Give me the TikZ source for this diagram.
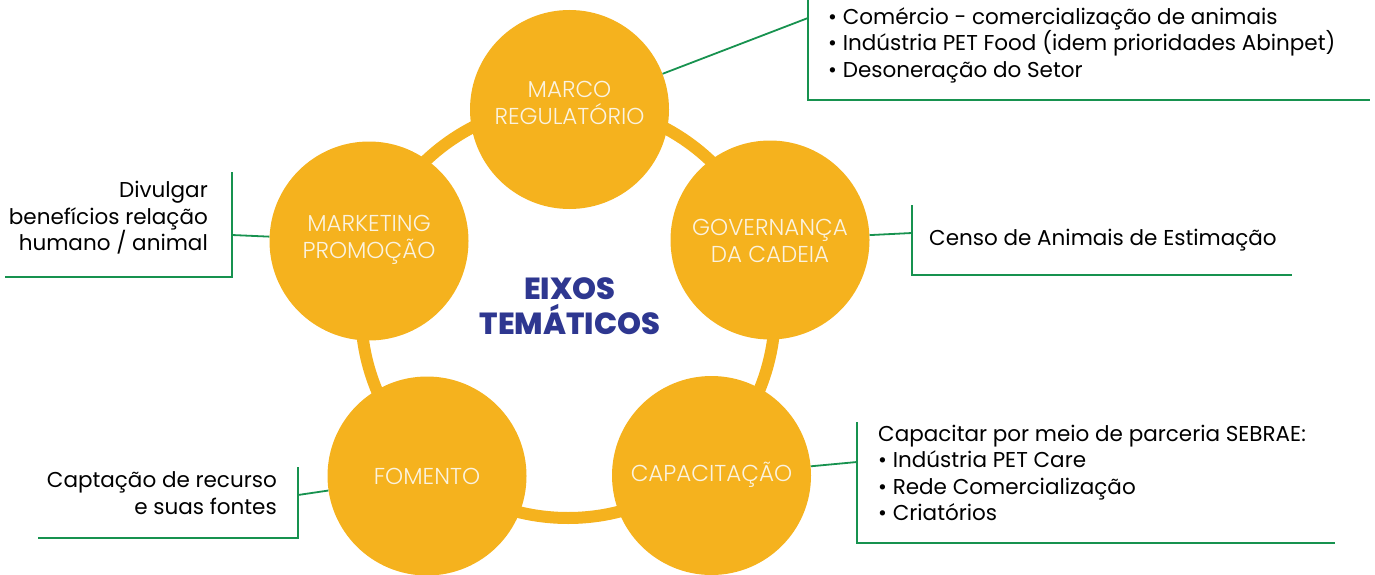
\documentclass[tikz,border=0pt]{standalone}
\usepackage{fontspec}
\setmainfont{Poppins}
\newfontfamily\lightfont{Poppins}[UprightFont=* Light]
\newfontfamily\boldfont{Poppins}[UprightFont=* ExtraBold]
\definecolor{circ}{HTML}{F5B21E}
\definecolor{grn}{HTML}{17924F}
\definecolor{navy}{HTML}{2E3790}
\definecolor{ctext}{HTML}{FBF3E0}
\tikzset{
  eixo/.style={circle, fill=circ, minimum size=199pt, inner sep=0pt},
  etext/.style={inner sep=0pt, text=ctext, font=\lightfont\fontsize{23}{27}\selectfont, align=center},
  ring/.style={draw=circ, line width=12pt},
  conn/.style={draw=grn, line width=1.8pt},
  lbl/.style={inner sep=0pt, text=black, font=\fontsize{21.5}{26.5}\selectfont},
}
\begin{document}
\begin{tikzpicture}[x=1pt,y=-1pt]
\useasboundingbox (0,0) rectangle (1375,575);
\draw[ring] (568,311) circle[radius=207pt];
\node[eixo] (marco) at (569.5,109.5) {};
\node[eixo] (gov) at (770,240) {};
\node[eixo] (cap) at (711.5,475.5) {};
\node[eixo] (fom) at (427,476) {};
\node[eixo] (mkt) at (369,241) {};
\node[etext] (marcot) at (569.5,103) {MARCO\\REGULATÓRIO};
\node[etext] (govt) at (770,241) {GOVERNANÇA\\DA CADEIA};
\node[etext] (capt) at (711.5,475) {CAPACITAÇÃO};
\node[etext] (fomt) at (427,476) {FOMENTO};
\node[etext] (mktt) at (369,240) {MARKETING\\PROMOÇÃO};
\node[text=navy, font=\boldfont\fontsize{30.5}{35}\selectfont, align=center, inner sep=0pt] (title) at (570,306) {EIXOS\\TEMÁTICOS};
% top right
\coordinate (b1a) at (808,-2);
\coordinate (b1j) at (808,18);
\coordinate (b1b) at (808,100);
\coordinate (b1c) at (1370,100);
\draw[conn] (marco) -- (b1j);
\draw[conn] (b1a) -- (b1b) -- (b1c);
\node[lbl, anchor=west, align=left] (t1) at (828,45) {• Comércio - comercialização de animais\\• Indústria PET Food (idem prioridades Abinpet)\\• Desoneração do Setor};
% governanca
\coordinate (b2a) at (912,205);
\coordinate (b2j) at (912,233);
\coordinate (b2b) at (912,275);
\coordinate (b2c) at (1292,275);
\draw[conn] (gov) -- (b2j);
\draw[conn] (b2a) -- (b2b) -- (b2c);
\node[lbl, anchor=west] (t2) at (929,240) {Censo de Animais de Estimação};
% capacitacao
\coordinate (b3a) at (857,422);
\coordinate (b3j) at (857,462);
\coordinate (b3b) at (857,543);
\coordinate (b3c) at (1335,543);
\draw[conn] (cap) -- (b3j);
\draw[conn] (b3a) -- (b3b) -- (b3c);
\node[lbl, anchor=west, align=left] (t3) at (878,473) {Capacitar por meio de parceria SEBRAE:\\• Indústria PET Care\\• Rede Comercialização\\• Criatórios};
% fomento
\coordinate (b4a) at (298,467);
\coordinate (b4j) at (298,495);
\coordinate (b4b) at (298,538);
\coordinate (b4c) at (38,538);
\draw[conn] (fom) -- (b4j);
\draw[conn] (b4a) -- (b4b) -- (b4c);
\node[lbl, anchor=east, align=right] (t4) at (277,493) {Captação de recurso\\e suas fontes};
% marketing
\coordinate (b5a) at (232,172);
\coordinate (b5j) at (232,235);
\coordinate (b5b) at (232,277);
\coordinate (b5c) at (5,277);
\draw[conn] (mkt) -- (b5j);
\draw[conn] (b5a) -- (b5b) -- (b5c);
\node[lbl, anchor=east, align=right] (t5) at (208,218) {Divulgar\\benefícios relação\\humano / animal};
\end{tikzpicture}
\end{document}
